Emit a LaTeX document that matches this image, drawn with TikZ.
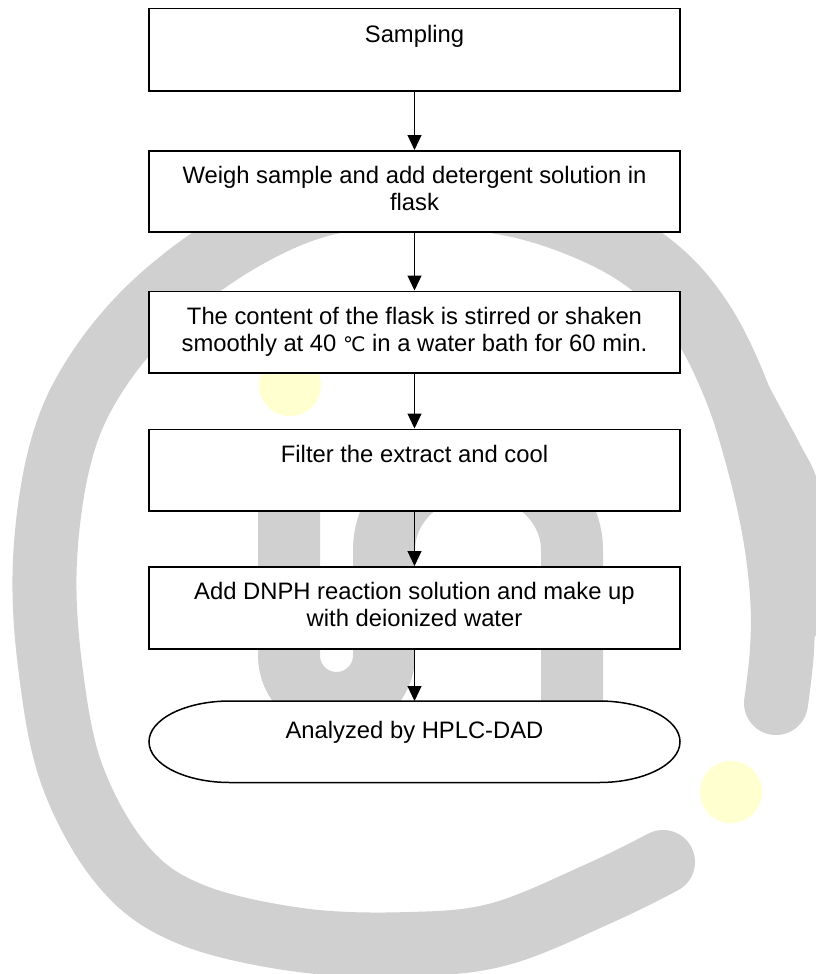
\documentclass[tikz,border=0pt]{standalone}
\usepackage{fontspec}
\setmainfont{Liberation Sans}
\newfontfamily\symfont{DejaVu Sans}
\usetikzlibrary{arrows.meta}
\definecolor{wmgray}{RGB}{208,208,208}
\definecolor{wmyellow}{RGB}{255,255,208}
\tikzset{
  boxtext/.style={inner sep=0pt, anchor=north, font=\fontsize{23.8pt}{27pt}\selectfont},
  stepbox/.style={boxtext, draw=black, line width=1.5pt, fill=white},
  endbox/.style={boxtext},
  stadiumline/.style={draw=black, line width=1.5pt, fill=white},
  flowarrow/.style={draw=black, line width=1.1pt, -{Triangle[length=15pt,width=14pt]}},
  wmband/.style={draw=wmgray, line width=64pt, line cap=round},
  wmthick/.style={draw=wmgray, line width=50pt, line cap=round},
  wmstem/.style={draw=wmgray, line width=62pt},
  wmdot/.style={fill=wmyellow}
}
\begin{document}
\begin{tikzpicture}[x=1pt,y=-1pt]
\useasboundingbox (0,0) rectangle (816,974);
% watermark
\begin{scope}
\clip (0,0) rectangle (816,974);
\draw[wmband] plot[smooth, tension=0.6] coordinates {(776,703) (782,650) (782,595) (774,530) (758,460) (736,390) (703,323) (660,272) (600,234) (515,205) (415,195) (320,205) (232,245) (150,308) (92,380) (60,455) (45,560) (50,665) (72,775) (123,866) (190,914) (300,940) (410,944) (500,934) (600,893) (663,862)};
\draw[wmthick] plot[smooth, tension=0.6] coordinates {(700,308) (748,400) (778,456) (794,490) (802,545) (802,615)};
\draw[wmstem] (289,440) -- (289,655.5) .. controls (289,681.7) and (310.3,703) .. (336.5,703) .. controls (362.7,703) and (384,681.7) .. (384,655.5) -- (384,550) .. controls (384,503.1) and (426.1,465) .. (478,465) .. controls (529.9,465) and (572,503.1) .. (572,550) -- (572,740);
\fill[wmdot] (290,385) circle[radius=31];
\fill[wmdot] (731,792) circle[radius=31];
\end{scope}
% flow boxes
\node[stepbox] (b1) at (414.5,8) {\parbox[t][82pt][t]{531pt}{\centering\rule{0pt}{34pt}Sampling}};
\node[stepbox] (b2) at (414.5,150) {\parbox[t][81pt][t]{531pt}{\centering\rule{0pt}{32.5pt}Weigh sample and add detergent solution in\\flask}};
\node[stepbox] (b3) at (414.5,290.5) {\parbox[t][81.5pt][t]{531pt}{\centering\rule{0pt}{33.5pt}The content of the flask is stirred or shaken\\smoothly at 40 {\symfont\fontsize{20pt}{27pt}\selectfont ℃} in a water bath for 60 min.}};
\node[stepbox] (b4) at (414.5,428.5) {\parbox[t][81.5pt][t]{531pt}{\centering\rule{0pt}{33pt}Filter the extract and cool}};
\node[stepbox] (b5) at (414.5,566) {\parbox[t][82pt][t]{531pt}{\centering\rule{0pt}{33pt}Add DNPH reaction solution and make up\\with deionized water}};
\path[stadiumline] (230,701) -- (599,701) .. controls (643.74,701) and (680,719.24) .. (680,741.75) .. controls (680,764.26) and (643.74,782.5) .. (599,782.5) -- (230,782.5) .. controls (185.26,782.5) and (149,764.26) .. (149,741.75) .. controls (149,719.24) and (185.26,701) .. (230,701) -- cycle;
\node[endbox] (b6) at (414.5,701) {\parbox[t][81.5pt][t]{531pt}{\centering\rule{0pt}{37pt}Analyzed by HPLC-DAD}};
% connectors
\draw[flowarrow] (b1) -- (b2);
\draw[flowarrow] (b2) -- (b3);
\draw[flowarrow] (b3) -- (b4);
\draw[flowarrow] (b4) -- (b5);
\draw[flowarrow] (b5) -- (b6);
\end{tikzpicture}
\end{document}
